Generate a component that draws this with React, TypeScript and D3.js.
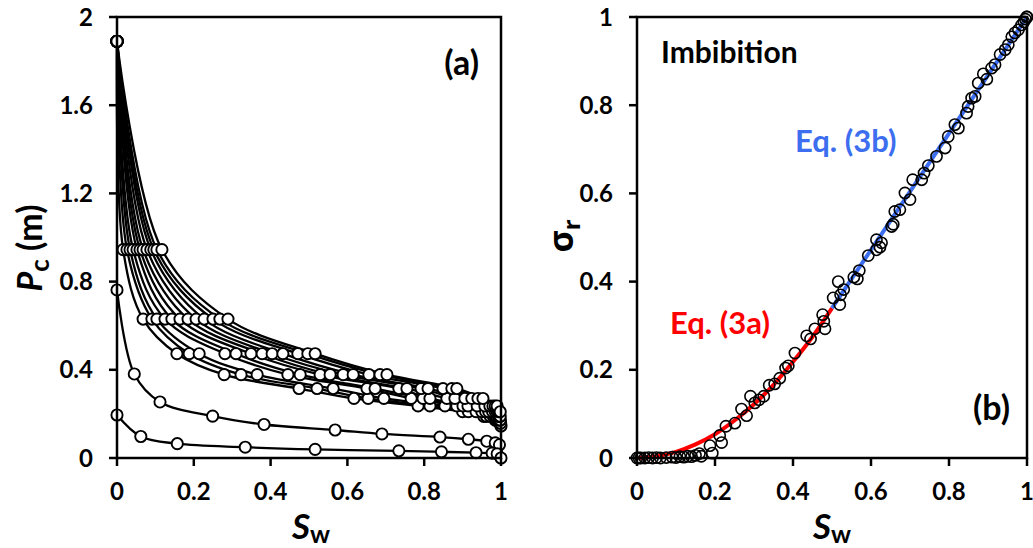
import React from 'react';
import * as d3 from 'd3';

// panel (a): capillary pressure curves, Pc levels shared by the 12 upper curves
const pcLevels = [1.89, 0.945, 0.63, 0.473, 0.378, 0.315, 0.27, 0.236, 0.21, 0.189, 0.172, 0.158, 0.145];
const swCurves = [
  [0, 0.016, 0.068, 0.156, 0.279, 0.474, 0.617, 0.784, 0.9, 0.955, 0.985, 0.996, 1.0],
  [0, 0.026, 0.091, 0.188, 0.323, 0.521, 0.654, 0.815, 0.915, 0.962, 0.988, 0.998],
  [0, 0.034, 0.104, 0.214, 0.365, 0.563, 0.695, 0.854, 0.935, 0.972, 0.992, 0.999],
  [0, 0.042, 0.125, 0.281, 0.445, 0.651, 0.766, 0.885, 0.95, 0.98, 0.996],
  [0, 0.052, 0.143, 0.31, 0.477, 0.672, 0.797, 0.901, 0.96, 0.985, 0.997],
  [0, 0.06, 0.164, 0.349, 0.529, 0.734, 0.815, 0.914, 0.968, 0.988, 0.998],
  [0, 0.068, 0.185, 0.378, 0.555, 0.755, 0.859, 0.938, 0.978, 0.993],
  [0, 0.078, 0.206, 0.404, 0.589, 0.792, 0.88, 0.958, 0.985, 0.996],
  [0, 0.088, 0.227, 0.432, 0.615, 0.81, 0.906, 0.971, 0.99, 0.998],
  [0, 0.096, 0.25, 0.471, 0.656, 0.849, 0.924, 0.979, 0.994],
  [0, 0.104, 0.268, 0.497, 0.685, 0.872, 0.94, 0.985, 0.996],
  [0, 0.117, 0.289, 0.516, 0.703, 0.885, 0.953, 0.99, 0.998],
];
const swLowA = [0, 0.045, 0.112, 0.249, 0.383, 0.568, 0.69, 0.841, 0.915, 0.963, 0.985, 0.996];
const pcLowA = [0.762, 0.381, 0.254, 0.19, 0.152, 0.127, 0.109, 0.095, 0.085, 0.076, 0.069, 0.06];
const swLowB = [0, 0.062, 0.157, 0.334, 0.516, 0.734, 0.845, 0.935, 0.977, 0.99, 1.0];
const pcLowB = [0.195, 0.0975, 0.065, 0.049, 0.039, 0.0325, 0.028, 0.024, 0.022, 0.019, 0.0];

// panel (b): measured points
const sigSw = [
  0, 0.005, 0.01, 0.02, 0.03, 0.04, 0.05, 0.06, 0.075, 0.09, 0.1, 0.11, 0.12, 0.13, 0.14, 0.15, 0.16, 0.165,
  0.187, 0.193, 0.212, 0.217, 0.228, 0.251, 0.268, 0.281, 0.291, 0.302, 0.313, 0.325, 0.339, 0.353, 0.366,
  0.381, 0.388, 0.405, 0.435, 0.445, 0.456, 0.476, 0.479, 0.482, 0.503, 0.516, 0.52, 0.522, 0.53, 0.556,
  0.565, 0.57, 0.593, 0.614, 0.627, 0.614, 0.623, 0.653, 0.657, 0.661, 0.674, 0.687, 0.7, 0.707, 0.73,
  0.736, 0.747, 0.768, 0.79, 0.798, 0.815, 0.824, 0.845, 0.849, 0.858, 0.867, 0.875, 0.888, 0.897, 0.909,
  0.918, 0.931, 0.944, 0.952, 0.961, 0.969, 0.978, 0.986, 0.992, 0.996, 0.999, 1.0,
];
const sigVal = [
  0, 0, 0, 0, 0.001, 0, 0.001, 0, 0.001, 0.002, 0.001, 0.003, 0.002, 0.004, 0.003, 0.006, 0.01, 0.004,
  0.028, 0.011, 0.051, 0.035, 0.072, 0.079, 0.111, 0.096, 0.14, 0.125, 0.132, 0.14, 0.165, 0.168, 0.181,
  0.204, 0.209, 0.238, 0.277, 0.27, 0.293, 0.325, 0.31, 0.293, 0.363, 0.4, 0.348, 0.37, 0.382, 0.41,
  0.406, 0.425, 0.459, 0.472, 0.488, 0.495, 0.478, 0.525, 0.53, 0.559, 0.563, 0.601, 0.586, 0.631, 0.631,
  0.646, 0.663, 0.684, 0.703, 0.729, 0.756, 0.748, 0.782, 0.797, 0.816, 0.82, 0.85, 0.871, 0.859, 0.884,
  0.892, 0.915, 0.926, 0.937, 0.955, 0.964, 0.971, 0.982, 0.989, 0.995, 1.0, 1.0,
];
// fitted curves
const eq3aSw = [0, 0.05, 0.1, 0.15, 0.2, 0.25, 0.3, 0.35, 0.4, 0.45, 0.5];
const eq3aVal = [0, 0.004, 0.014, 0.031, 0.054, 0.085, 0.122, 0.166, 0.218, 0.275, 0.34];
const eq3bSw = [0.5, 1.0];
const eq3bVal = [0.34, 1.0];

const ticksA_y = [0, 0.4, 0.8, 1.2, 1.6, 2];
const ticksB_y = [0, 0.2, 0.4, 0.6, 0.8, 1];
const ticksX = [0, 0.2, 0.4, 0.6, 0.8, 1];

const FONT = 'Lato, "Open Sans", sans-serif';
const BLUE = '#3d6ef0';

const App = () => {
  const xa = d3.scaleLinear().domain([0, 1]).range([117, 501]);
  const ya = d3.scaleLinear().domain([0, 2]).range([458, 17]);
  const xb = d3.scaleLinear().domain([0, 1]).range([637, 1027]);
  const yb = d3.scaleLinear().domain([0, 1]).range([458, 17]);

  const smooth = d3.line<[number, number]>().curve(d3.curveCatmullRom.alpha(0.5));
  const straight = d3.line<[number, number]>();

  const upper = swCurves.map((sws) => sws.map((s, i) => [xa(s), ya(pcLevels[i])] as [number, number]));
  const lowA = swLowA.map((s, i) => [xa(s), ya(pcLowA[i])] as [number, number]);
  const lowB = swLowB.map((s, i) => [xa(s), ya(pcLowB[i])] as [number, number]);
  const seriesA = [...upper, lowA, lowB];

  const fmt = (v: number) => (v === 0 || v === 1 || v === 2 ? String(v) : v.toFixed(1));

  const frame = (x0: number, x1: number, y0: number, y1: number) => (
    <rect x={x0} y={y0} width={x1 - x0} height={y1 - y0} fill="none" stroke="#000" strokeWidth={2.5} />
  );

  return (
    <svg width={1033} height={548} style={{ position: 'absolute', left: 0, top: 0, background: '#fff' }} fontFamily={FONT}>
      {/* ---------- panel (a) ---------- */}
      <g>
        {seriesA.map((pts, k) => (
          <path key={k} d={smooth(pts) || ''} fill="none" stroke="#000" strokeWidth={2.3} />
        ))}
        {seriesA.map((pts, k) =>
          pts.map((p, i) => (
            <circle key={k + '-' + i} cx={p[0]} cy={p[1]} r={5.6} fill="#fff" stroke="#000" strokeWidth={1.9} />
          ))
        )}
        {frame(117, 501, 17, 458)}
        {ticksA_y.map((t) => (
          <g key={t}>
            <line x1={109} x2={117} y1={ya(t)} y2={ya(t)} stroke="#000" strokeWidth={2.5} />
            <text x={93} y={ya(t) + 8.5} textAnchor="end" fontSize={24} fontWeight="bold">{fmt(t)}</text>
          </g>
        ))}
        {ticksX.map((t) => (
          <g key={t}>
            <line x1={xa(t)} x2={xa(t)} y1={458} y2={466} stroke="#000" strokeWidth={2.5} />
            <text x={xa(t)} y={500} textAnchor="middle" fontSize={24} fontWeight="bold">{fmt(t)}</text>
          </g>
        ))}
        <text transform="translate(42,248) rotate(-90)" textAnchor="middle" fontSize={34} fontWeight="bold">
          <tspan fontStyle="italic">P</tspan>
          <tspan fontSize={26} dy={7}>c</tspan>
          <tspan dy={-7}> (m)</tspan>
        </text>
        <text x={311} y={539} textAnchor="middle" fontSize={35} fontWeight="bold">
          <tspan fontStyle="italic">S</tspan>
          <tspan fontSize={25} dy={4}>w</tspan>
        </text>
        <text x={479} y={75} textAnchor="end" fontSize={34} fontWeight="bold">(a)</text>
      </g>

      {/* ---------- panel (b) ---------- */}
      <g>
        <path d={smooth(eq3aSw.map((s, i) => [xb(s), yb(eq3aVal[i])] as [number, number])) || ''}
          fill="none" stroke="#ff0000" strokeWidth={4} />
        <path d={straight(eq3bSw.map((s, i) => [xb(s), yb(eq3bVal[i])] as [number, number])) || ''}
          fill="none" stroke={BLUE} strokeWidth={4} />
        {sigSw.map((s, i) => (
          <circle key={i} cx={xb(s)} cy={yb(sigVal[i])} r={5.6} fill="none" stroke="#000" strokeWidth={1.6} />
        ))}
        {frame(637, 1027, 17, 458)}
        {ticksB_y.map((t) => (
          <g key={t}>
            <line x1={629} x2={637} y1={yb(t)} y2={yb(t)} stroke="#000" strokeWidth={2.5} />
            <text x={613} y={yb(t) + 8.5} textAnchor="end" fontSize={24} fontWeight="bold">{fmt(t)}</text>
          </g>
        ))}
        {ticksX.map((t) => (
          <g key={t}>
            <line x1={xb(t)} x2={xb(t)} y1={458} y2={466} stroke="#000" strokeWidth={2.5} />
            <text x={xb(t)} y={500} textAnchor="middle" fontSize={24} fontWeight="bold">{fmt(t)}</text>
          </g>
        ))}
        <text transform="translate(573,236) rotate(-90)" textAnchor="middle" fontSize={34} fontWeight="bold" fontFamily='"Open Sans", sans-serif'>
          <tspan>σ</tspan>
          <tspan fontSize={24} dy={7}>r</tspan>
        </text>
        <text x={832} y={539} textAnchor="middle" fontSize={35} fontWeight="bold">
          <tspan fontStyle="italic">S</tspan>
          <tspan fontSize={25} dy={4}>w</tspan>
        </text>
        <text x={661} y={63} fontSize={30} fontWeight="bold">Imbibition</text>
        <text x={795} y={152} fontSize={31} fontWeight="bold" fill={BLUE}>Eq. (3b)</text>
        <text x={670} y={334} fontSize={31} fontWeight="bold" fill="#ff0000">Eq. (3a)</text>
        <text x={1010} y={420} textAnchor="end" fontSize={34} fontWeight="bold">(b)</text>
      </g>
    </svg>
  );
};

export default App;
